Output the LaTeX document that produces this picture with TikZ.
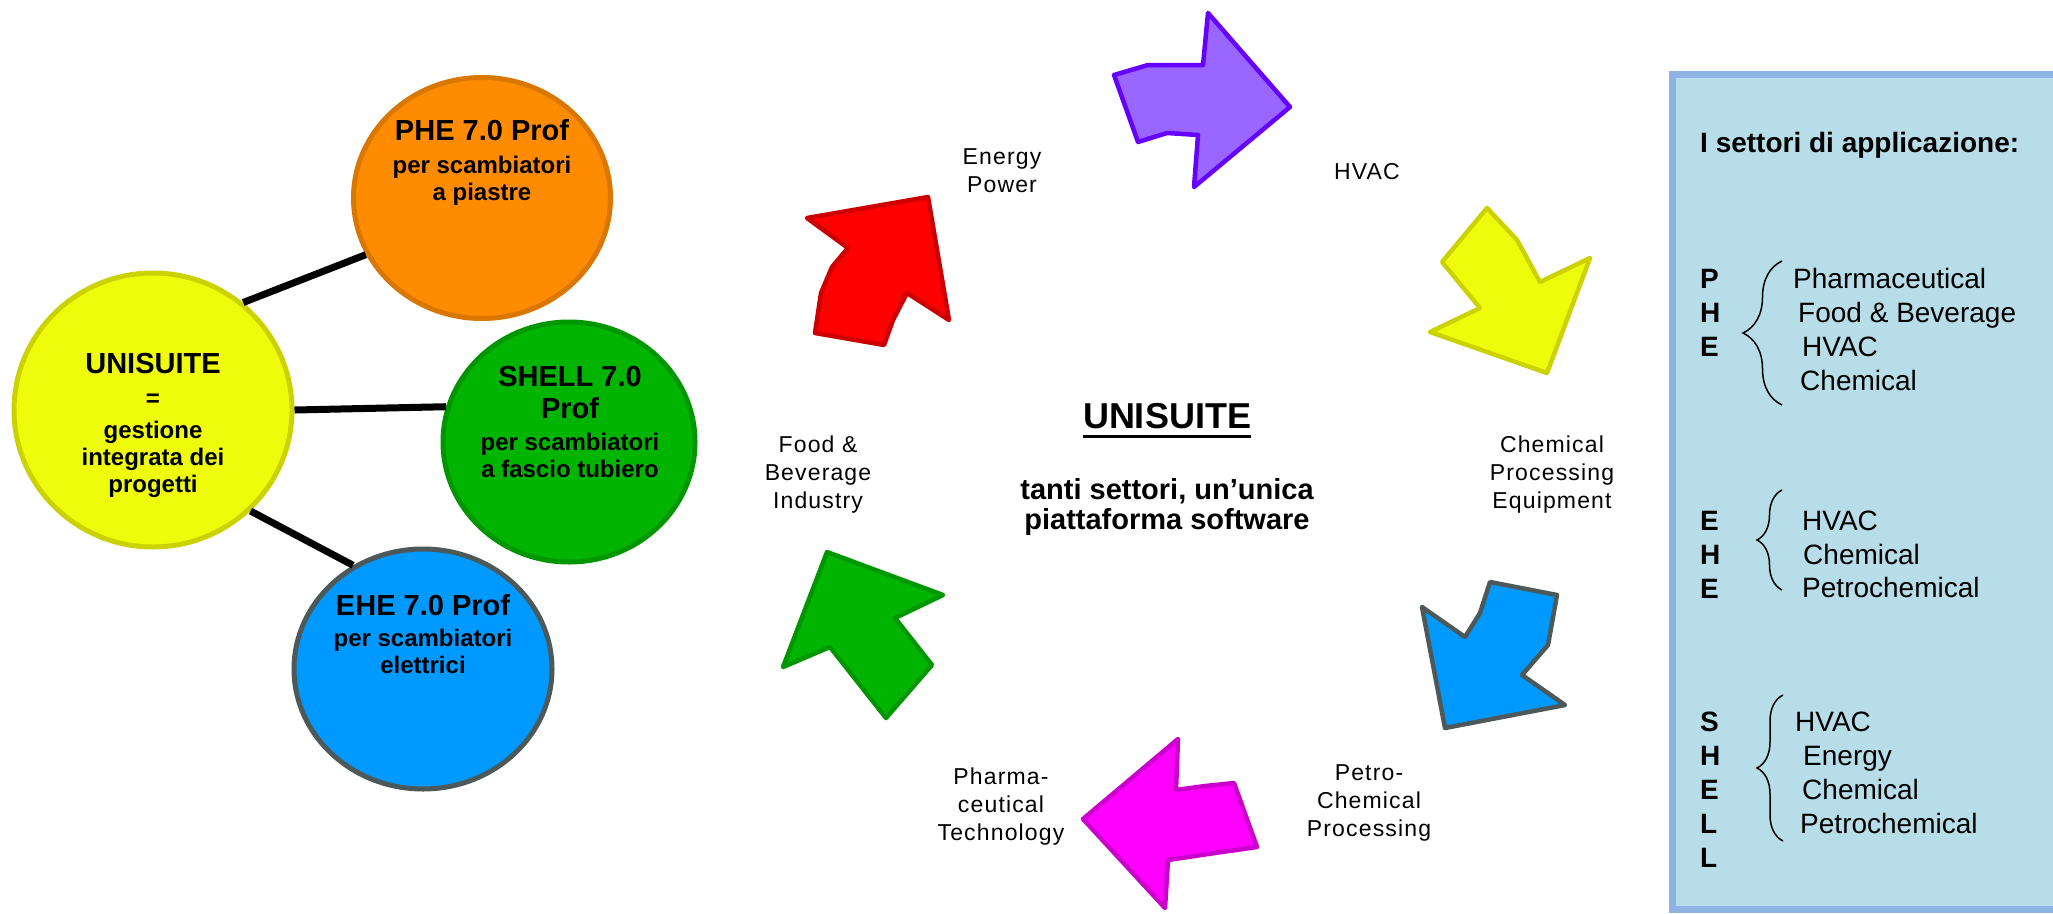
\documentclass[tikz,border=0pt]{standalone}
\usepackage{fontspec}
\setmainfont{Liberation Sans}
\usetikzlibrary{shapes.geometric,decorations.pathreplacing}
\definecolor{uniyellow}{RGB}{238,252,12}
\definecolor{uniyellowline}{RGB}{204,210,0}
\definecolor{pheorange}{RGB}{255,140,0}
\definecolor{pheorangeline}{RGB}{217,119,0}
\definecolor{shellgreen}{RGB}{0,180,0}
\definecolor{shellgreenline}{RGB}{0,150,0}
\definecolor{eheblue}{RGB}{0,153,255}
\definecolor{eheblueline}{RGB}{77,89,89}
\definecolor{arrpurple}{RGB}{153,102,255}
\definecolor{arrpurpleline}{RGB}{102,0,255}
\definecolor{arrmagenta}{RGB}{255,0,255}
\definecolor{arrmagentaline}{RGB}{204,0,204}
\definecolor{arrred}{RGB}{255,0,0}
\definecolor{arrredline}{RGB}{204,0,0}
\definecolor{panelfill}{RGB}{183,221,232}
\definecolor{panelline}{RGB}{141,179,226}
\newcommand\prodname[1]{{\fontsize{29}{33}\selectfont #1}}

\begin{document}
\begin{tikzpicture}[x=1pt,y=-1pt,
  prod/.style={ellipse,draw,line width=5pt,inner sep=0pt},
  prodtext/.style={align=center,font=\fontsize{24}{27}\selectfont\bfseries},
  link/.style={line width=7pt},
  arr/.style={line width=4.5pt,line join=round},
  sector/.style={align=center,font=\fontsize{23}{28}\selectfont\addfontfeature{LetterSpace=5}},
  panel/.style={anchor=base west,inner sep=0pt,font=\fontsize{28}{34}\selectfont}]
  \useasboundingbox (0,0) rectangle (2053,913);

  % products
  \node[prod,fill=uniyellow,draw=uniyellowline,minimum width=278pt,minimum height=274pt] (uni) at (153,410) {};
  \node[prod,fill=pheorange,draw=pheorangeline,minimum width=257pt,minimum height=241pt] (phe) at (482,198) {};
  \node[prod,fill=shellgreen,draw=shellgreenline,minimum width=252pt,minimum height=240pt] (shell) at (569,442) {};
  \node[prod,fill=eheblue,draw=eheblueline,minimum width=258pt,minimum height=240pt] (ehe) at (423,669) {};
  \draw[link] (uni.50) -- (phe.206);
  \draw[link] (uni.east) -- (shell.164);
  \draw[link] (uni.-46) -- (ehe.124);
  \node[prodtext] (unitxt) at (153,425) {\prodname{UNISUITE}\\[6pt] =\\[5pt] gestione\\ integrata dei\\ progetti};
  \node[prodtext] (phetxt) at (482,162) {\prodname{PHE 7.0 Prof}\\[6pt] per scambiatori\\ a piastre};
  \node[prodtext] (shelltxt) at (570,422) {\prodname{SHELL 7.0}\\[5pt] \prodname{Prof}\\[5pt] per scambiatori\\ a fascio tubiero};
  \node[prodtext] (ehetxt) at (423,634) {\prodname{EHE 7.0 Prof}\\[4pt] per scambiatori\\ elettrici};

  % cycle of sectors
  \draw[arr,fill=arrred,draw=arrredline] (928,197) -- (949,320) -- (907,293) -- (893,320) -- (884,345) -- (815,333) -- (821,293) -- (832,267) -- (848,248) -- (807,218) -- cycle;
  \draw[arr,fill=arrpurple,draw=arrpurpleline] (1208,13) -- (1290,107) -- (1194,187) -- (1198,135) -- (1167,133) -- (1138,142) -- (1114,75) -- (1148,65) -- (1203,65) -- cycle;
  \draw[arr,fill=uniyellow,draw=uniyellowline] (1487,208) -- (1517,240) -- (1540,282) -- (1590,258) -- (1547,373) -- (1430,332) -- (1480,308) -- (1442,262) -- cycle;
  \draw[arr,fill=eheblue,draw=eheblueline] (1490,582) -- (1557,595) -- (1548,645) -- (1522,675) -- (1565,705) -- (1445,728) -- (1422,607) -- (1465,637) -- (1480,613) -- cycle;
  \draw[arr,fill=arrmagenta,draw=arrmagentaline] (1178,739) -- (1176,790) -- (1205,786) -- (1234,783) -- (1257,847) -- (1215,853) -- (1168,860) -- (1165,908) -- (1083,819) -- cycle;
  \draw[arr,fill=shellgreen,draw=shellgreenline] (827,552) -- (943,595) -- (895,618) -- (932,665) -- (886,718) -- (830,647) -- (783,667) -- cycle;

  \node[sector] (energy) at (1002,171) {Energy\\ Power};
  \node[sector] (hvac) at (1367,172) {HVAC};
  \node[sector] (chem) at (1552,475) {Chemical\\ Processing\\ Equipment};
  \node[sector] (petro) at (1369,803) {Petro-\\ Chemical\\ Processing};
  \node[sector] (pharma) at (1001,807) {Pharma-\\ ceutical\\ Technology};
  \node[sector] (food) at (818,475) {Food \&\\ Beverage\\ Industry};

  \node[inner xsep=0pt,anchor=base,font=\fontsize{36}{40}\selectfont\bfseries] (cname) at (1167,428) {UNISUITE};
  \draw[line width=3pt] ([yshift=-8pt]cname.base west) -- ([yshift=-8pt]cname.base east);
  \node[align=center,font=\fontsize{29}{30}\selectfont\bfseries] (cmotto) at (1167,507) {tanti settori, un’unica\\ piattaforma software};

  % sectors panel
  \draw[fill=panelfill,draw=panelline,line width=7pt] (1672,74) rectangle (2090,909);
  \node[panel,font=\fontsize{28}{34}\selectfont\bfseries] (ptitle) at (1700,152) {I settori di applicazione:};
  \foreach \l [count=\i from 0] in {P,H,E}
    \node[panel,font=\fontsize{28}{34}\selectfont\bfseries] (phe\i) at (1700,288+34*\i) {\l};
  \foreach \l [count=\i from 0] in {E,H,E}
    \node[panel,font=\fontsize{28}{34}\selectfont\bfseries] (ehe\i) at (1700,530+34*\i) {\l};
  \foreach \l [count=\i from 0] in {S,H,E,L,L}
    \node[panel,font=\fontsize{28}{34}\selectfont\bfseries] (shell\i) at (1700,731+34*\i) {\l};
  \draw[decorate,decoration={brace,amplitude=39pt},line width=1.5pt] (1782,405) -- (1782,261);
  \draw[decorate,decoration={brace,amplitude=25pt},line width=1.5pt] (1782,590) -- (1782,490);
  \draw[decorate,decoration={brace,amplitude=26pt},line width=1.5pt] (1783,841) -- (1783,695);
  \node[panel] (pheA) at (1793,288) {Pharmaceutical};
  \node[panel] (pheB) at (1798,322) {Food \& Beverage};
  \node[panel] (pheC) at (1802,356) {HVAC};
  \node[panel] (pheD) at (1800,390) {Chemical};
  \node[panel] (eheA) at (1802,530) {HVAC};
  \node[panel] (eheB) at (1803,564) {Chemical};
  \node[panel] (eheC) at (1802,597) {Petrochemical};
  \node[panel] (shellA) at (1795,731) {HVAC};
  \node[panel] (shellB) at (1803,765) {Energy};
  \node[panel] (shellC) at (1802,799) {Chemical};
  \node[panel] (shellD) at (1800,833) {Petrochemical};
\end{tikzpicture}
\end{document}
